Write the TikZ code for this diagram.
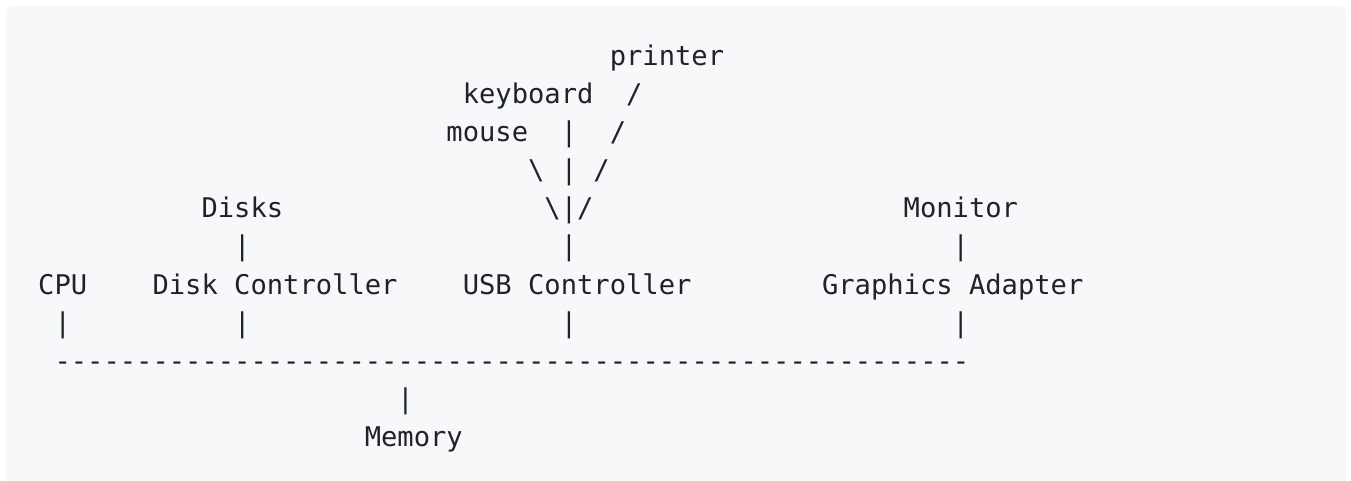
\documentclass[tikz,border=0pt]{standalone}
\usepackage{fontspec}
\newfontfamily\asciifont{DejaVu Sans Mono}[Ligatures=TeXOff]
\definecolor{codebg}{HTML}{F6F8FA}
\definecolor{codefg}{HTML}{1F2328}
\begin{document}
\begin{tikzpicture}[x=0.75pt,y=-0.75pt,
  ascii/.style={inner sep=0pt,outer sep=0pt,anchor=base west,text=codefg,
    font=\asciifont\fontsize{20.35}{24}\selectfont}]
  \useasboundingbox (0,0) rectangle (1351,480);
  % code block background
  \begin{scope}
    \clip (0,0) rectangle (1351,480);
    \fill[codebg, rounded corners=4.5pt] (6,6) rectangle (1346,492);
  \end{scope}
  % character grid: x = column, y = text line
  \begin{scope}[shift={(28.65pt,-48.75pt)}, x=12.2475pt, y=-28.6275pt]
    % USB devices
    \node[ascii] (printer)  at (35,0) {printer};
    \node[ascii] (keyboard) at (26,1) {keyboard};
    \node[ascii] (pr1)      at (36,1) {/};
    \node[ascii] (mouse)    at (25,2) {mouse};
    \node[ascii] (kb1)      at (32,2) {|};
    \node[ascii] (pr2)      at (35,2) {/};
    \node[ascii] (ms1)      at (30,3) {\textbackslash};
    \node[ascii] (kb2)      at (32,3) {|};
    \node[ascii] (pr3)      at (34,3) {/};
    \node[ascii] (ms2)      at (31,4) {\textbackslash};
    \node[ascii] (kb3)      at (32,4) {|};
    \node[ascii] (pr4)      at (33,4) {/};
    % peripherals above the controllers
    \node[ascii] (disks)    at (10,4) {Disks};
    \node[ascii] (monitor)  at (53,4) {Monitor};
    \node[ascii] (dk1)      at (12,5) {|};
    \node[ascii] (usb1)     at (32,5) {|};
    \node[ascii] (mon1)     at (56,5) {|};
    % controllers
    \node[ascii] (cpu)      at (0,6)  {CPU};
    \node[ascii] (diskctl)  at (7,6)  {Disk Controller};
    \node[ascii] (usbctl)   at (26,6) {USB Controller};
    \node[ascii] (gfx)      at (48,6) {Graphics Adapter};
    \node[ascii] (cpu1)     at (1,7)  {|};
    \node[ascii] (dc1)      at (12,7) {|};
    \node[ascii] (uc1)      at (32,7) {|};
    \node[ascii] (gfx1)     at (56,7) {|};
    % system bus
    \node[ascii] (bus)      at (1,8)  {--------------------------------------------------------};
    \node[ascii] (mem1)     at (22,9) {|};
    \node[ascii] (memory)   at (20,10) {Memory};
  \end{scope}
\end{tikzpicture}
\end{document}
